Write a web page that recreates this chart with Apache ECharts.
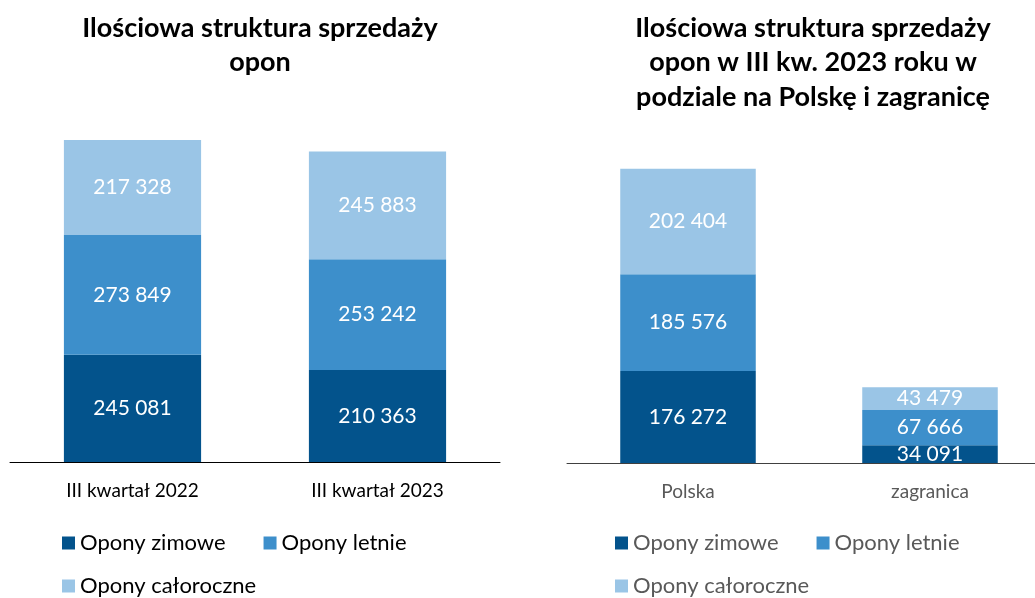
<!DOCTYPE html>
<html>
<head>
<meta charset="utf-8">
<script src="https://cdn.jsdelivr.net/npm/echarts@6/dist/echarts.min.js"></script>
<style>
html, body { margin: 0; padding: 0; background: #fff; }
#main { width: 1035px; height: 598px; }
</style>
</head>
<body>
<div id="main"></div>
<script>
// dane - wykres lewy (kwartaly)
var kwartaly = ['III kwartał 2022', 'III kwartał 2023'];
var kw_zimowe = [245081, 210363];
var kw_letnie = [273849, 253242];
var kw_caloroczne = [217328, 245883];

// dane - wykres prawy (Polska / zagranica)
var rynki = ['Polska', 'zagranica'];
var ry_zimowe = [176272, 34091];
var ry_letnie = [185576, 67666];
var ry_caloroczne = [202404, 43479];

var nazwy = ['Opony zimowe', 'Opony letnie', 'Opony całoroczne'];
var kolory = ['#03538C', '#3D8FCB', '#9AC5E6'];

var FONT = 'Lato, "Noto Sans", sans-serif';

var chart = echarts.init(document.getElementById('main'));

function fmt(p) {
    return String(p.value).replace(/\B(?=(\d{3})+(?!\d))/g, ' ');
}

function seria(nazwa, dane, idx, stos, kolor) {
    return {
        name: nazwa,
        type: 'bar',
        stack: stos,
        xAxisIndex: idx,
        yAxisIndex: idx,
        barWidth: '56%',
        itemStyle: { color: kolor },
        label: {
            show: true,
            position: 'inside',
            color: '#fff',
            fontFamily: FONT,
            fontSize: 21,
            formatter: fmt
        },
        data: dane
    };
}

function legenda(dane, left, top, kolor) {
    return {
        data: dane,
        left: left,
        top: top,
        padding: 0,
        icon: 'rect',
        itemWidth: 13,
        itemHeight: 13,
        itemGap: 38,
        selectedMode: false,
        textStyle: { fontFamily: FONT, fontSize: 22, color: kolor }
    };
}

var option = {
    animation: false,
    color: kolory,
    // tytuly
    title: [
        {
            text: 'Ilościowa struktura sprzedaży\nopon',
            left: 255,
            top: 6,
            textAlign: 'center',
            textStyle: { fontFamily: FONT, fontSize: 27, fontWeight: 'bold', color: '#000', lineHeight: 34.5 }
        },
        {
            text: 'Ilościowa struktura sprzedaży\nopon w III kw. 2023 roku w\npodziale na Polskę i zagranicę',
            left: 808,
            top: 6,
            textAlign: 'center',
            textStyle: { fontFamily: FONT, fontSize: 27, fontWeight: 'bold', color: '#000', lineHeight: 34.5 }
        }
    ],
    grid: [
        { left: 10, top: 112, width: 490, height: 350, outerBoundsMode: 'none' },
        { left: 567, top: 150, width: 484, height: 313, outerBoundsMode: 'none' }
    ],
    xAxis: [
        {
            type: 'category',
            gridIndex: 0,
            data: kwartaly,
            axisTick: { show: false },
            axisLine: { lineStyle: { color: '#000', width: 1 } },
            axisLabel: { color: '#000', fontFamily: FONT, fontSize: 19, margin: 19 }
        },
        {
            type: 'category',
            gridIndex: 1,
            data: rynki,
            axisTick: { show: false },
            axisLine: { lineStyle: { color: '#404040', width: 1 } },
            axisLabel: { color: '#595959', fontFamily: FONT, fontSize: 19, margin: 19 }
        }
    ],
    yAxis: [
        { type: 'value', gridIndex: 0, min: 0, max: 800000, show: false, splitLine: { show: false } },
        { type: 'value', gridIndex: 1, min: 0, max: 600000, show: false, splitLine: { show: false } }
    ],
    legend: [
        legenda([nazwy[0], nazwy[1]], 62, 532, '#000'),
        legenda([nazwy[2]], 62, 575, '#000'),
        legenda([nazwy[0], nazwy[1]], 615, 532, '#595959'),
        legenda([nazwy[2]], 615, 575, '#595959')
    ],
    series: [
        seria(nazwy[0], kw_zimowe, 0, 'a', kolory[0]),
        seria(nazwy[1], kw_letnie, 0, 'a', kolory[1]),
        seria(nazwy[2], kw_caloroczne, 0, 'a', kolory[2]),
        seria(nazwy[0], ry_zimowe, 1, 'b', kolory[0]),
        seria(nazwy[1], ry_letnie, 1, 'b', kolory[1]),
        seria(nazwy[2], ry_caloroczne, 1, 'b', kolory[2])
    ]
};

chart.setOption(option);
</script>
</body>
</html>
